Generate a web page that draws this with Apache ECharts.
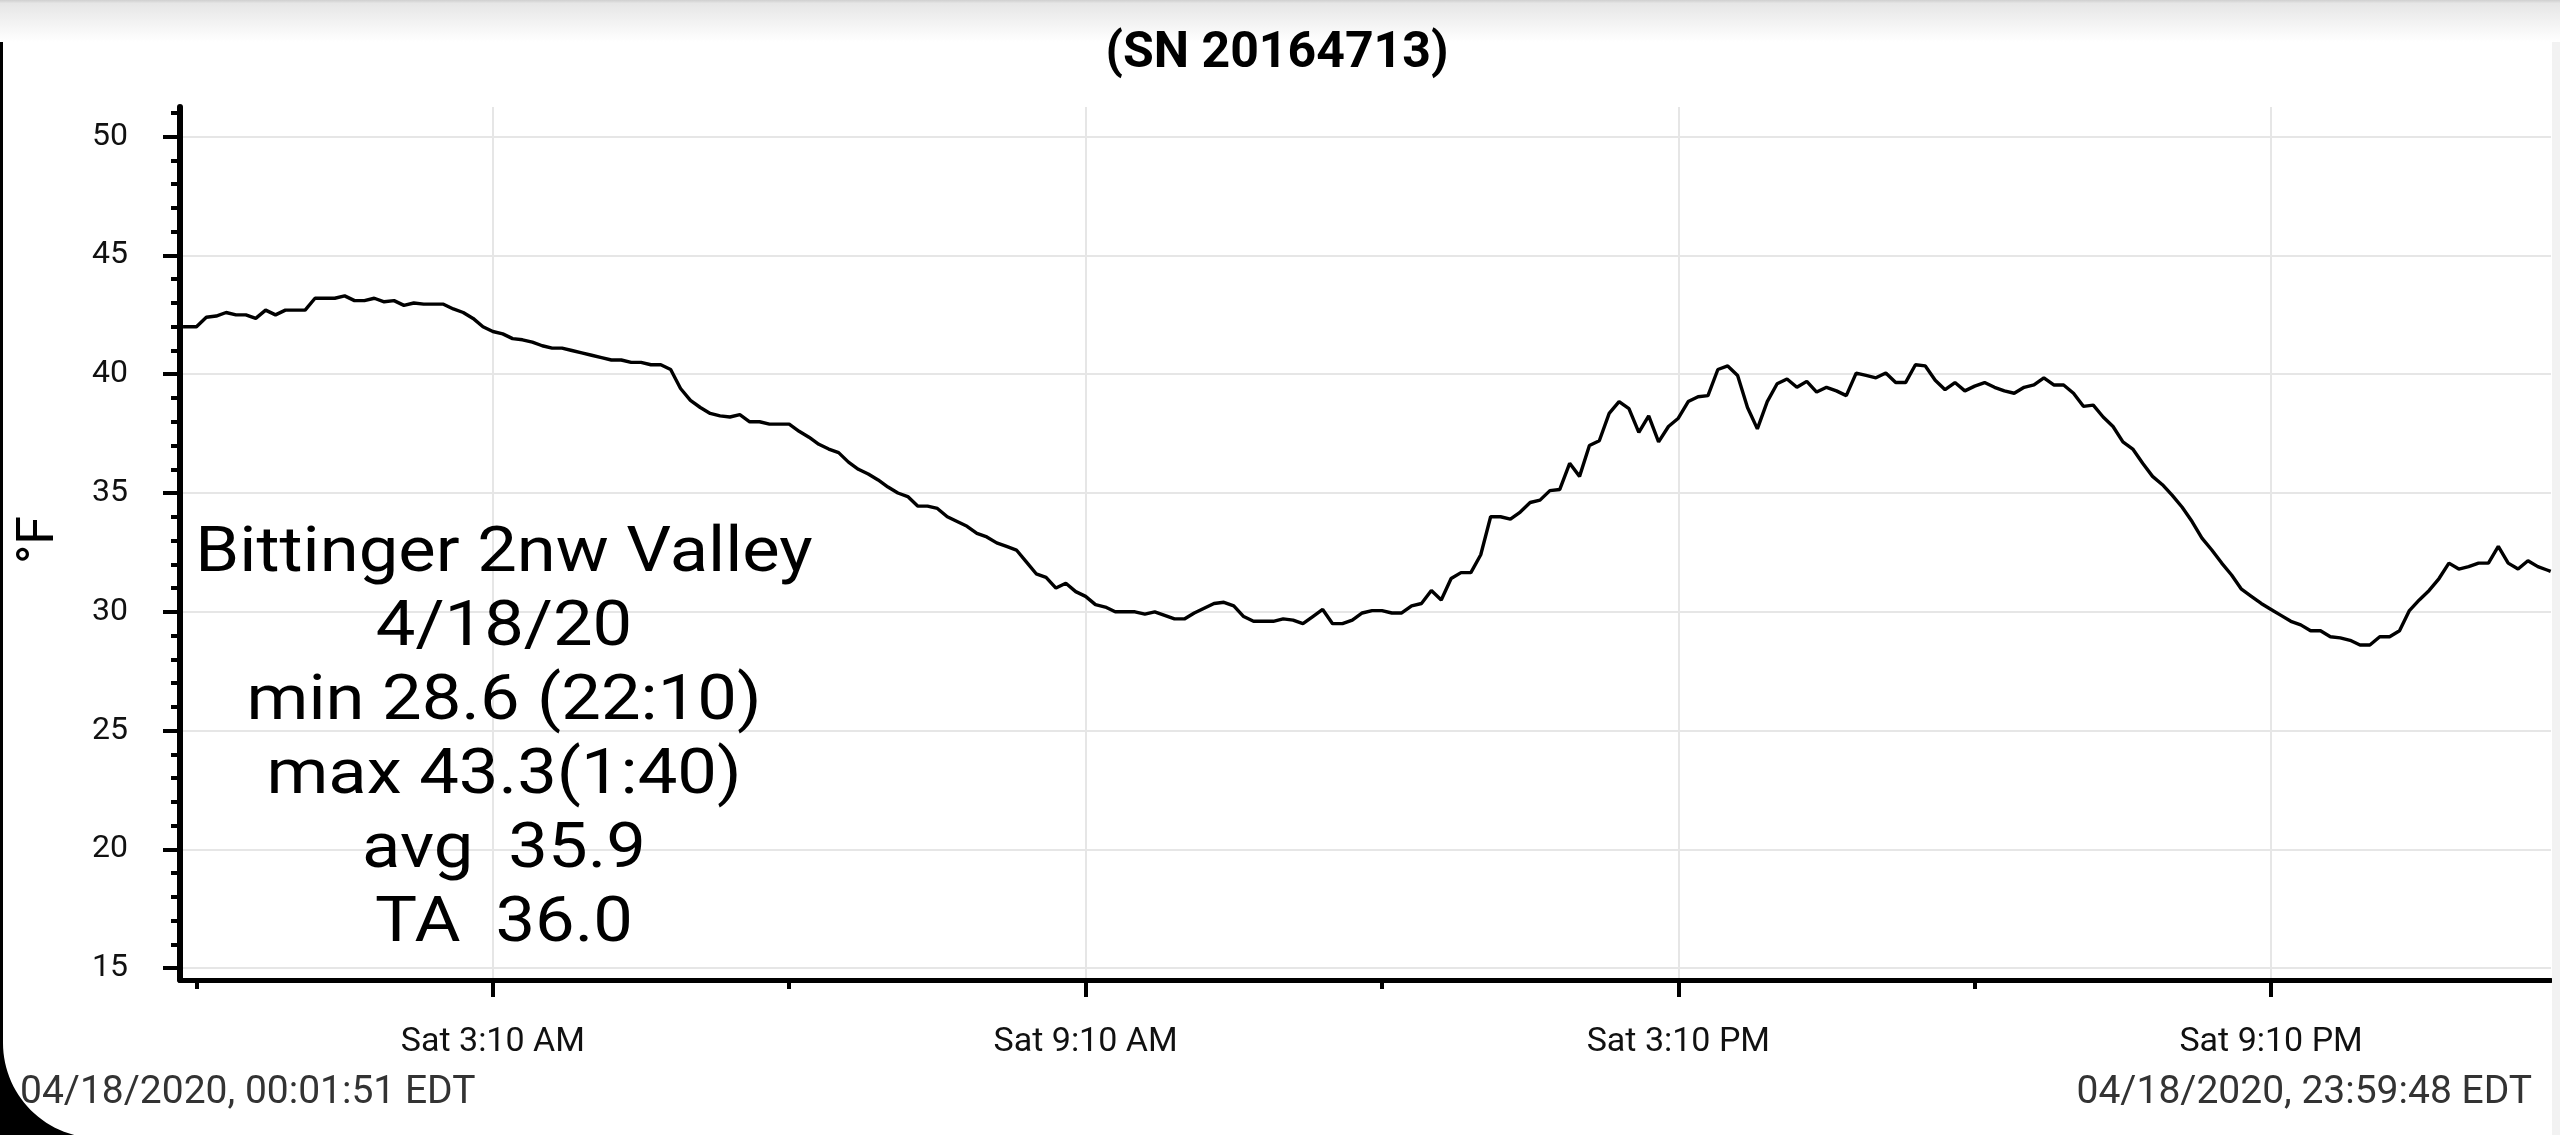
<!DOCTYPE html>
<html>
<head>
<meta charset="utf-8">
<script src="https://cdn.jsdelivr.net/npm/echarts@6/dist/echarts.min.js"></script>
<style>
html,body{margin:0;padding:0;background:#fff;}
#chart{width:2560px;height:1135px;}
</style>
</head>
<body>
<div id="chart"></div>
<script>
// ---------- data ----------
const titleText = '(SN 20164713)';
const yAxisName = '°F';
const noteLines = ['Bittinger 2nw Valley', '4/18/20', 'min 28.6 (22:10)', 'max 43.3(1:40)', 'avg  35.9', 'TA  36.0'];
const footerLeft = '04/18/2020, 00:01:51 EDT';
const footerRight = '04/18/2020, 23:59:48 EDT';
const dayName = 'Sat';

// minutes since midnight
const firstLogMin = 1 + 51 / 60;          // 00:01:51
const lastLogMin = 23 * 60 + 59 + 48 / 60; // 23:59:48
const firstLogTemp = 42.0;
const lastLogTemp = 31.7;
const sampleStartMin = 4;   // readings at 00:04, 00:10, 00:16 ...
const sampleStepMin = 6;

const tempsF = [
  42.0, 42.0, 42.4, 42.45, 42.6, 42.5, 42.5, 42.35, 42.7, 42.5,
  42.7, 42.7, 42.7, 43.2, 43.2, 43.2, 43.3, 43.1, 43.1, 43.2,
  43.05, 43.1, 42.9, 43.0, 42.95, 42.95, 42.95, 42.75, 42.6, 42.35,
  42.0, 41.8, 41.7, 41.5, 41.45, 41.35, 41.2, 41.1, 41.1, 41.0,
  40.9, 40.8, 40.7, 40.6, 40.6, 40.5, 40.5, 40.4, 40.4, 40.2,
  39.4, 38.9, 38.6, 38.35, 38.25, 38.2, 38.3, 38.0, 38.0, 37.9,
  37.9, 37.9, 37.6, 37.35, 37.05, 36.85, 36.7, 36.3, 36.0, 35.8,
  35.55, 35.25, 35.0, 34.85, 34.45, 34.45, 34.35, 34.0, 33.8, 33.6,
  33.3, 33.15, 32.9, 32.75, 32.6, 32.1, 31.6, 31.45, 31.0, 31.2,
  30.85, 30.65, 30.3, 30.2, 30.0, 30.0, 30.0, 29.9, 30.0, 29.85,
  29.7, 29.7, 29.95, 30.15, 30.35, 30.4, 30.25, 29.8, 29.6, 29.6,
  29.6, 29.7, 29.65, 29.5, 29.8, 30.1, 29.5, 29.5, 29.65, 29.95,
  30.05, 30.05, 29.95, 29.95, 30.25, 30.35, 30.9, 30.5, 31.4, 31.65,
  31.65, 32.4, 34.0, 34.0, 33.9, 34.2, 34.6, 34.7, 35.1, 35.15,
  36.25, 35.7, 37.0, 37.2, 38.35, 38.85, 38.55, 37.55, 38.25, 37.15,
  37.8, 38.15, 38.85, 39.05, 39.1, 40.2, 40.35, 39.95, 38.6, 37.7,
  38.85, 39.6, 39.8, 39.45, 39.7, 39.25, 39.45, 39.3, 39.1, 40.05,
  39.95, 39.85, 40.05, 39.65, 39.65, 40.4, 40.35, 39.75, 39.35, 39.65,
  39.3, 39.5, 39.65, 39.45, 39.3, 39.2, 39.45, 39.55, 39.85, 39.55,
  39.55, 39.2, 38.65, 38.7, 38.2, 37.8, 37.15, 36.85, 36.25, 35.7,
  35.35, 34.9, 34.4, 33.8, 33.1, 32.6, 32.05, 31.55, 30.95, 30.65,
  30.35, 30.1, 29.85, 29.6, 29.45, 29.2, 29.2, 28.95, 28.9, 28.8,
  28.6, 28.6, 28.95, 28.95, 29.2, 30.05, 30.5, 30.9, 31.4, 32.05,
  31.8, 31.9, 32.05, 32.05, 32.75, 32.05, 31.8, 32.15, 31.9, 31.75
];

const xMajorTicks = [190, 550, 910, 1270];   // 3:10 AM, 9:10 AM, 3:10 PM, 9:10 PM
const xMinorTicks = [10, 370, 730, 1090];
const yMajorTicks = [15, 20, 25, 30, 35, 40, 45, 50];
const yMinorTicks = [15, 16, 17, 18, 19, 20, 21, 22, 23, 24, 25, 26, 27, 28, 29, 30, 31, 32, 33, 34, 35, 36, 37, 38, 39, 40, 41, 42, 43, 44, 45, 46, 47, 48, 49, 50, 51];
const yMin = 14.5, yMax = 51.25;
const xMin = 0, xMax = 1440;

// ---------- build ----------
const seriesData = [[firstLogMin, firstLogTemp]];
tempsF.forEach((v, k) => seriesData.push([sampleStartMin + k * sampleStepMin, v]));
seriesData.push([lastLogMin, lastLogTemp]);

function fmtTime(m) {
  const h = Math.floor(m / 60), mm = Math.round(m % 60);
  const ap = h < 12 ? 'AM' : 'PM';
  let h12 = h % 12; if (h12 === 0) h12 = 12;
  return dayName + ' ' + h12 + ':' + String(mm).padStart(2, '0') + ' ' + ap;
}

// rounded screen corner (decoration)
const cornerR = 95, cornerBottom = 1138;
const cornerPts = [[0, 980], [3, 980]];
for (let i = 0; i <= 30; i++) {
  const a = Math.PI - (Math.PI / 2) * (i / 30);
  cornerPts.push([3 + cornerR + cornerR * Math.cos(a), cornerBottom - cornerR + cornerR * Math.sin(a)]);
}
cornerPts.push([0, cornerBottom]);

const FONT = 'Roboto';
const chart = echarts.init(document.getElementById('chart'), null, { renderer: 'canvas' });

const option = {
  animation: false,
  backgroundColor: '#ffffff',
  grid: { left: 180, right: 9, top: 107, bottom: 155, containLabel: false },
  xAxis: [
    {
      type: 'value', min: xMin, max: xMax, position: 'bottom',
      axisLine: { show: true, onZero: false, lineStyle: { color: '#000', width: 5 } },
      axisTick: { show: true, customValues: xMajorTicks, length: 17, lineStyle: { color: '#000', width: 4 } },
      axisLabel: { show: true, customValues: xMajorTicks, formatter: fmtTime, fontSize: 34, fontFamily: FONT, color: '#111', margin: 45 },
      splitLine: { show: true, lineStyle: { color: '#e6e6e6', width: 2 } }
    },
    {
      type: 'value', min: xMin, max: xMax, position: 'bottom',
      axisLine: { show: false, onZero: false },
      axisTick: { show: true, customValues: xMinorTicks, length: 9, lineStyle: { color: '#000', width: 4 } },
      axisLabel: { show: false },
      splitLine: { show: false }
    }
  ],
  yAxis: [
    {
      type: 'value', min: yMin, max: yMax, position: 'left',
      axisLine: { show: true, onZero: false, lineStyle: { color: '#000', width: 6 } },
      axisTick: { show: true, customValues: yMajorTicks, length: 17, lineStyle: { color: '#000', width: 4 } },
      axisLabel: { show: true, customValues: yMajorTicks, fontSize: 32, fontFamily: FONT, color: '#111', margin: 52 },
      splitLine: { show: true, lineStyle: { color: '#e6e6e6', width: 2 } }
    },
    {
      type: 'value', min: yMin, max: yMax, position: 'left',
      axisLine: { show: false, onZero: false },
      axisTick: { show: true, customValues: yMinorTicks, length: 9, lineStyle: { color: '#000', width: 4 } },
      axisLabel: { show: false },
      splitLine: { show: false }
    }
  ],
  series: [
    {
      type: 'line', xAxisIndex: 0, yAxisIndex: 0,
      data: seriesData, showSymbol: false, symbol: 'none',
      lineStyle: { color: '#000', width: 3.4 }, z: 5, silent: true
    }
  ],
  graphic: [
    { type: 'rect', z: -10, silent: true, shape: { x: 0, y: 0, width: 2560, height: 42 },
      style: { fill: {
        type: 'linear', x: 0, y: 0, x2: 0, y2: 1,
        colorStops: [{ offset: 0, color: '#cfcfcf' }, { offset: 0.08, color: '#e6e6e6' }, { offset: 1, color: '#ffffff' }] } } },
    { type: 'rect', z: 50, silent: true, shape: { x: 0, y: 42, width: 3, height: 1100 }, style: { fill: '#000' } },
    { type: 'rect', z: 50, silent: true, shape: { x: 2552, y: 42, width: 8, height: 1100 }, style: { fill: '#f2f2f2' } },
    { type: 'polygon', z: 50, silent: true, shape: { points: cornerPts }, style: { fill: '#000' } },
    { type: 'text', z: 60, silent: true, x: 1277, y: 54,
      style: { text: titleText, fontSize: 50, fontWeight: 'bold', fontFamily: FONT, fill: '#000',
               align: 'center', verticalAlign: 'middle' } },
    { type: 'text', z: 60, silent: true, x: 40, y: 540, rotation: Math.PI / 2,
      style: { text: yAxisName, fontSize: 52, fontFamily: FONT, fill: '#000',
               align: 'center', verticalAlign: 'middle' } },
    { type: 'text', z: 60, silent: true, x: 504, y: 740, scaleX: 1.12, scaleY: 1,
      style: { text: noteLines.join('\n'), fontSize: 63, lineHeight: 74, fontFamily: FONT, fill: '#000',
               align: 'center', verticalAlign: 'middle' } },
    { type: 'text', z: 60, silent: true, x: 20, y: 1093,
      style: { text: footerLeft, fontSize: 39, fontFamily: FONT, fill: '#333',
               align: 'left', verticalAlign: 'middle' } },
    { type: 'text', z: 60, silent: true, x: 2532, y: 1093,
      style: { text: footerRight, fontSize: 39, fontFamily: FONT, fill: '#333',
               align: 'right', verticalAlign: 'middle' } }
  ]
};
chart.setOption(option);
</script>
</body>
</html>
